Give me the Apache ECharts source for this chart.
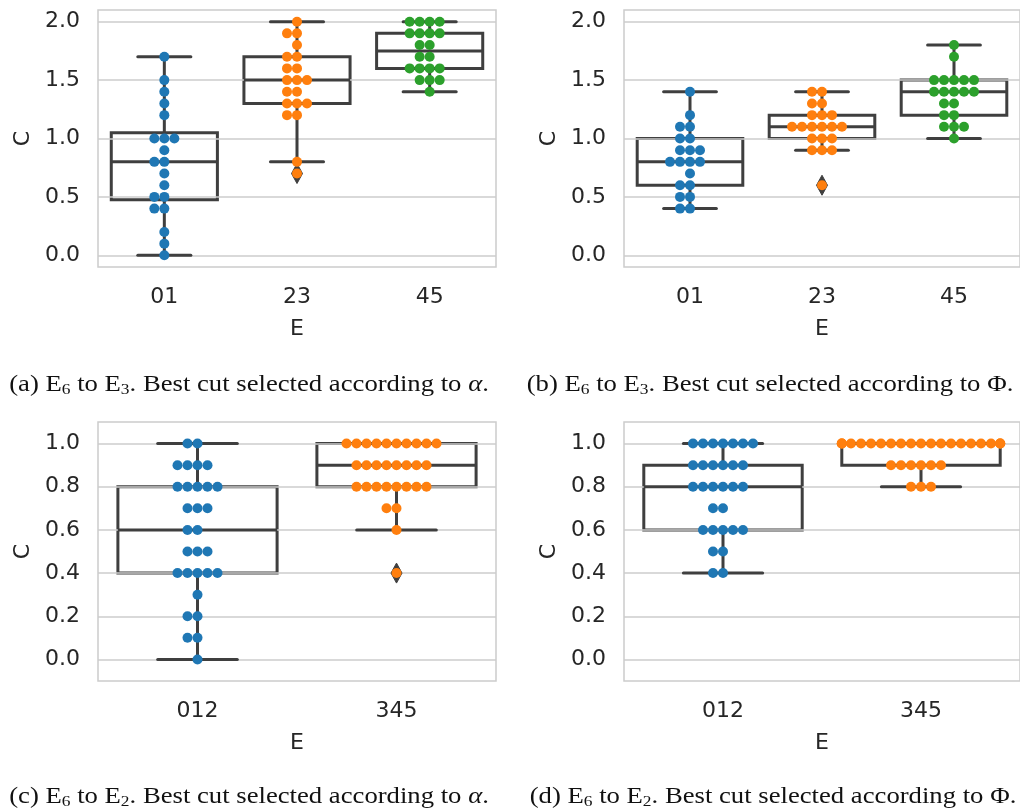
<!DOCTYPE html>
<html><head><meta charset="utf-8">
<script src="https://cdn.jsdelivr.net/npm/echarts@6/dist/echarts.min.js"></script>
<style>html,body{margin:0;padding:0;background:#fff}#c{width:1020px;height:812px}</style>
</head><body><div id="c"></div>
<script>
// ---- data ----
const catsTop = ['01', '23', '45'];
const catsBottom = ['012', '345'];
const ticksTop = [0, 0.5, 1.0, 1.5, 2.0];
const ticksBottom = [0, 0.2, 0.4, 0.6, 0.8, 1.0];

const a01 = [1.7,1.5,1.4,1.3,1.2,1.0,1.0,1.0,0.9,0.8,0.8,0.7,0.6,0.5,0.5,0.4,0.4,0.2,0.1,0.0];
const a23 = [2.0,1.9,1.9,1.8,1.7,1.7,1.6,1.6,1.5,1.5,1.5,1.4,1.4,1.3,1.3,1.3,1.2,1.2,0.8,0.7];
const a45 = [2.0,2.0,2.0,2.0,1.9,1.9,1.9,1.9,1.8,1.8,1.7,1.7,1.6,1.6,1.6,1.6,1.5,1.5,1.5,1.4];

const b01 = [1.4,1.2,1.1,1.1,1.0,1.0,0.9,0.9,0.9,0.8,0.8,0.8,0.8,0.7,0.6,0.6,0.5,0.5,0.4,0.4];
const b23 = [1.4,1.4,1.3,1.3,1.2,1.2,1.2,1.1,1.1,1.1,1.1,1.1,1.1,1.0,1.0,1.0,0.9,0.9,0.9,0.6];
const b45 = [1.8,1.7,1.5,1.5,1.5,1.5,1.5,1.4,1.4,1.4,1.4,1.4,1.3,1.3,1.2,1.2,1.1,1.1,1.1,1.0];

const c012 = [1.0,1.0,0.9,0.9,0.9,0.9,0.8,0.8,0.8,0.8,0.8,0.7,0.7,0.7,0.6,0.6,0.5,0.5,0.5,
              0.4,0.4,0.4,0.4,0.4,0.3,0.2,0.2,0.1,0.1,0.0];
const c345 = [1.0,1.0,1.0,1.0,1.0,1.0,1.0,1.0,1.0,1.0,0.9,0.9,0.9,0.9,0.9,0.9,0.9,0.9,
              0.8,0.8,0.8,0.8,0.8,0.8,0.8,0.8,0.7,0.7,0.6,0.4];

const d012 = [1.0,1.0,1.0,1.0,1.0,1.0,1.0,0.9,0.9,0.9,0.9,0.9,0.9,0.8,0.8,0.8,0.8,0.8,0.8,
              0.7,0.7,0.6,0.6,0.6,0.6,0.6,0.5,0.5,0.4,0.4];
const d345 = [1.0,1.0,1.0,1.0,1.0,1.0,1.0,1.0,1.0,1.0,1.0,1.0,1.0,1.0,1.0,1.0,1.0,1.0,1.0,1.0,1.0,
              0.9,0.9,0.9,0.9,0.9,0.9,0.8,0.8,0.8];

const captionA = '(a) E{sub|6} to E{sub|3}. Best cut selected according to {it|α}.';
const captionB = '(b) E{sub|6} to E{sub|3}. Best cut selected according to Φ.';
const captionC = '(c) E{sub|6} to E{sub|2}. Best cut selected according to {it|α}.';
const captionD = '(d) E{sub|6} to E{sub|2}. Best cut selected according to Φ.';

// ---- styles ----
const PALETTE = ['#1f77b4', '#ff7f0e', '#2ca02c'];
const GRAY = '#3f3f3f';
const TXT = '#262626';
const DOT_SPACING = 10;
const CAP_FONT = 'Liberation Serif';

function quantile(sorted, p) {
  const pos = (sorted.length - 1) * p;
  const lo = Math.floor(pos), hi = Math.ceil(pos);
  return sorted[lo] + (pos - lo) * (sorted[hi] - sorted[lo]);
}
function boxStats(vals) {
  const s = vals.slice().sort((x, y) => x - y);
  const q1 = quantile(s, 0.25), med = quantile(s, 0.5), q3 = quantile(s, 0.75);
  const iqr = q3 - q1;
  const lf = q1 - 1.5 * iqr, uf = q3 + 1.5 * iqr;
  const inside = s.filter(v => v >= lf && v <= uf);
  const out = s.filter(v => v < lf || v > uf);
  return { lo: inside[0], q1, med, q3, hi: inside[inside.length - 1], out };
}
function swarmItems(groups) {
  const items = [];
  groups.forEach((vals, ci) => {
    const counts = {};
    vals.forEach(v => {
      const k = v.toFixed(3);
      const i = counts[k] || 0;
      counts[k] = i + 1;
      const rank = i === 0 ? 0 : (i % 2 === 1 ? -(i + 1) / 2 : i / 2);
      items.push([ci, v, rank]);
    });
  });
  return items;
}

function renderBox(params, api) {
  const c = api.value(0);
  const w = api.size([1, 0])[0];
  const bw = w * 0.8;
  const p1 = api.coord([c, api.value(2)]);
  const p3 = api.coord([c, api.value(4)]);
  return { type: 'rect', shape: { x: p1[0] - bw / 2, y: p3[1], width: bw, height: p1[1] - p3[1] },
           style: { fill: 'none', stroke: GRAY, lineWidth: 3 } };
}
function renderLines(params, api) {
  const c = api.value(0);
  const w = api.size([1, 0])[0];
  const bw = w * 0.8, cw = w * 0.4;
  const lo = api.coord([c, api.value(1)]), q1 = api.coord([c, api.value(2)]),
        md = api.coord([c, api.value(3)]), q3 = api.coord([c, api.value(4)]),
        hi = api.coord([c, api.value(5)]);
  const x = lo[0];
  const st = { stroke: GRAY, lineWidth: 3, lineCap: 'round' };
  const ln = (x1, y1, x2, y2) => ({ type: 'line', shape: { x1, y1, x2, y2 }, style: st });
  return { type: 'group', children: [
    ln(x, lo[1], x, q1[1]), ln(x, q3[1], x, hi[1]),
    ln(x - cw / 2, lo[1], x + cw / 2, lo[1]), ln(x - cw / 2, hi[1], x + cw / 2, hi[1]),
    { type: 'line', shape: { x1: x - bw / 2, y1: md[1], x2: x + bw / 2, y2: md[1] }, style: { stroke: GRAY, lineWidth: 3 } }
  ] };
}
function renderFlier(params, api) {
  const p = api.coord([api.value(0), api.value(1)]);
  const hw = 5.5, hh = 10;
  return { type: 'polygon', shape: { points: [[p[0], p[1] - hh], [p[0] + hw, p[1]], [p[0], p[1] + hh], [p[0] - hw, p[1]]] },
           style: { fill: GRAY, stroke: GRAY, lineWidth: 1 } };
}
function renderDot(params, api) {
  const c = api.value(0);
  const p = api.coord([c, api.value(1)]);
  const g = api.size([1, 0])[0] * 0.4;
  let off = api.value(2) * DOT_SPACING;
  off = Math.max(-g, Math.min(g, off));
  return { type: 'circle', shape: { cx: p[0] + off, cy: p[1], r: 5 }, style: { fill: PALETTE[c] } };
}

const panels = [
  { cats: catsTop, groups: [a01, a23, a45], ticks: ticksTop, min: -0.1, max: 2.1, grid: { left: 98, top: 10, width: 398, height: 257 } },
  { cats: catsTop, groups: [b01, b23, b45], ticks: ticksTop, min: -0.1, max: 2.1, grid: { left: 624, top: 10, width: 398, height: 257 } },
  { cats: catsBottom, groups: [c012, c345], ticks: ticksBottom, min: -0.1, max: 1.1, grid: { left: 98, top: 422, width: 398, height: 259 } },
  { cats: catsBottom, groups: [d012, d345], ticks: ticksBottom, min: -0.1, max: 1.1, grid: { left: 624, top: 422, width: 398, height: 259 } }
];

const grid = [], xAxis = [], yAxis = [], series = [];
panels.forEach((p, i) => {
  grid.push(Object.assign({ show: true, borderColor: '#cccccc', borderWidth: 1.5, backgroundColor: 'transparent' }, p.grid));
  xAxis.push({ type: 'category', gridIndex: i, data: p.cats, name: 'E', nameLocation: 'middle', nameGap: 51,
    nameTextStyle: { fontFamily: 'DejaVu Sans', fontSize: 22, color: TXT },
    axisLine: { show: false }, axisTick: { show: false }, splitLine: { show: false },
    axisLabel: { fontFamily: 'DejaVu Sans', fontSize: 22, color: TXT, margin: 19 } });
  yAxis.push({ type: 'value', gridIndex: i, min: p.min, max: p.max, z: 2, name: 'C', nameLocation: 'middle', nameGap: 64,
    nameTextStyle: { fontFamily: 'DejaVu Sans', fontSize: 22, color: TXT },
    axisLine: { show: false }, axisTick: { show: false, customValues: p.ticks },
    axisLabel: { customValues: p.ticks, formatter: v => v.toFixed(1), fontFamily: 'DejaVu Sans', fontSize: 22, color: TXT, margin: 18 },
    splitLine: { show: true, lineStyle: { color: '#cccccc', width: 1.5 } } });
  const stats = p.groups.map(boxStats);
  const boxData = stats.map((s, ci) => [ci, s.lo, s.q1, s.med, s.q3, s.hi]);
  const flierData = [];
  stats.forEach((s, ci) => s.out.forEach(v => flierData.push([ci, v])));
  series.push({ type: 'custom', xAxisIndex: i, yAxisIndex: i, z: 1, renderItem: renderBox, data: boxData, silent: true });
  series.push({ type: 'custom', xAxisIndex: i, yAxisIndex: i, z: 3, renderItem: renderLines, data: boxData, silent: true });
  series.push({ type: 'custom', xAxisIndex: i, yAxisIndex: i, z: 4, renderItem: renderFlier, data: flierData, silent: true });
  series.push({ type: 'custom', xAxisIndex: i, yAxisIndex: i, z: 5, renderItem: renderDot, data: swarmItems(p.groups), silent: true });
});

const capStyle = (text, x, y) => ({
  type: 'text', x, y, scaleX: 1.16,
  style: { text, fontFamily: CAP_FONT, fontSize: 23, fill: '#111', align: 'center', verticalAlign: 'middle',
    rich: { sub: { fontFamily: CAP_FONT, fontSize: 15, verticalAlign: 'bottom', padding: [10, 0, 0, 0], fill: '#111' },
            it: { fontFamily: CAP_FONT, fontSize: 23, fontStyle: 'italic', fill: '#111' } } }
});

const chart = echarts.init(document.getElementById('c'), null, { renderer: 'canvas' });
chart.setOption({
  animation: false,
  backgroundColor: '#ffffff',
  grid, xAxis, yAxis, series,
  graphic: [
    capStyle(captionA, 249, 385),
    capStyle(captionB, 770, 385),
    capStyle(captionC, 249, 797),
    capStyle(captionD, 773, 797)
  ]
});
</script></body></html>
